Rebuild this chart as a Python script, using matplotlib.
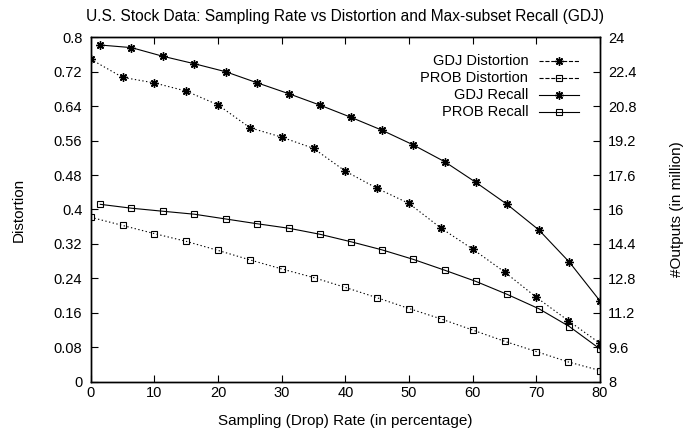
import matplotlib
matplotlib.use("Agg")
import matplotlib.pyplot as plt
from matplotlib.lines import Line2D

plt.rcParams["font.family"] = ["Liberation Sans", "DejaVu Sans"]
plt.rcParams["font.size"] = 10.5

# --- data ---
rate = [0, 5, 10, 15, 20, 25, 30, 35, 40, 45, 50, 55, 60, 65, 70, 75, 80]
gdj_distortion = [0.749, 0.707, 0.694, 0.675, 0.643, 0.590, 0.568, 0.542, 0.489,
                  0.449, 0.414, 0.357, 0.308, 0.255, 0.196, 0.142, 0.089]
prob_distortion = [0.382, 0.363, 0.344, 0.326, 0.305, 0.283, 0.262, 0.242, 0.219,
                   0.195, 0.170, 0.146, 0.120, 0.094, 0.070, 0.046, 0.026]

recall_rate = [1.5, 6.4, 11.3, 16.3, 21.2, 26.1, 31.1, 36.0, 40.9,
               45.7, 50.6, 55.6, 60.5, 65.4, 70.4, 75.2, 80]
gdj_recall = [23.64, 23.52, 23.12, 22.77, 22.40, 21.89, 21.38, 20.85, 20.28,
              19.69, 19.01, 18.22, 17.26, 16.24, 15.05, 13.55, 11.75]
prob_recall = [16.24, 16.06, 15.92, 15.78, 15.56, 15.34, 15.13, 14.85, 14.50,
               14.13, 13.69, 13.18, 12.66, 12.06, 11.39, 10.56, 9.52]

left_ticks = [0, 0.08, 0.16, 0.24, 0.32, 0.4, 0.48, 0.56, 0.64, 0.72, 0.8]
left_labels = ["0", "0.08", "0.16", "0.24", "0.32", "0.4", "0.48", "0.56", "0.64", "0.72", "0.8"]
right_ticks = [8, 9.6, 11.2, 12.8, 14.4, 16, 17.6, 19.2, 20.8, 22.4, 24]
right_labels = ["8", "9.6", "11.2", "12.8", "14.4", "16", "17.6", "19.2", "20.8", "22.4", "24"]
x_ticks = [0, 10, 20, 30, 40, 50, 60, 70, 80]

# gnuplot-ish asterisk: 8 arms
STAR = (8, 2, 0)
dotted = (0, (1.2, 2.2))

fig = plt.figure(figsize=(6.83, 4.32), dpi=100)
ax = fig.add_axes([0.1328, 0.1164, 0.8785 - 0.1328, 0.9137 - 0.1164])
ax2 = ax.twinx()

common = dict(color="black", linewidth=0.8)
l1, = ax.plot(rate, gdj_distortion, linestyle=dotted, marker=STAR, markersize=6,
              markeredgewidth=1.0, **common)
l2, = ax.plot(rate, prob_distortion, linestyle=dotted, marker="s", markersize=5,
              markerfacecolor="none", markeredgewidth=0.8, **common)
l3, = ax2.plot(recall_rate, gdj_recall, linestyle="-", marker=STAR, markersize=6,
               markeredgewidth=1.0, **common)
l4, = ax2.plot(recall_rate, prob_recall, linestyle="-", marker="s", markersize=5,
               markerfacecolor="none", markeredgewidth=0.8, **common)

ax.set_xlim(0, 80)
ax.set_ylim(0, 0.8)
ax2.set_ylim(8, 24)
ax.set_xticks(x_ticks)
ax.set_yticks(left_ticks)
ax.set_yticklabels(left_labels)
ax2.set_yticks(right_ticks)
ax2.set_yticklabels(right_labels)

ax.tick_params(direction="in", length=5, width=0.8, top=True, right=False, pad=6)
ax.tick_params(axis="x", pad=3)
ax2.tick_params(direction="in", length=5, width=0.8, pad=6)
for a in (ax, ax2):
    for s in a.spines.values():
        s.set_linewidth(1.0)

ax.set_xlabel("Sampling (Drop) Rate (in percentage)", fontsize=11, labelpad=10)
ax.set_ylabel("Distortion", fontsize=11, labelpad=20)
ax2.set_ylabel("#Outputs (in million)", fontsize=11, labelpad=24)
ax.set_title("U.S. Stock Data: Sampling Rate vs Distortion and Max-subset Recall (GDJ)",
             fontsize=11.2, pad=12)

# gnuplot-style key: right-aligned text, sample to the right
names = ["GDJ Distortion", "PROB Distortion", "GDJ Recall", "PROB Recall"]
handles = [l1, l2, l3, l4]
tx, y0, dy = 0.859, 0.931, 0.0495
for i, (name, h) in enumerate(zip(names, handles)):
    y = y0 - i * dy
    ax.text(tx, y, name, transform=ax.transAxes, ha="right", va="center")
    ax.add_line(Line2D([tx + 0.022, tx + 0.1], [y, y], transform=ax.transAxes,
                       color="black", linewidth=0.8, linestyle=h.get_linestyle()))
    ax.add_line(Line2D([tx + 0.061], [y], transform=ax.transAxes, linestyle="none",
                       marker=h.get_marker(), markersize=h.get_markersize(),
                       markerfacecolor="none", markeredgecolor="black",
                       markeredgewidth=h.get_markeredgewidth()))

fig.savefig("out.png", dpi=100)
